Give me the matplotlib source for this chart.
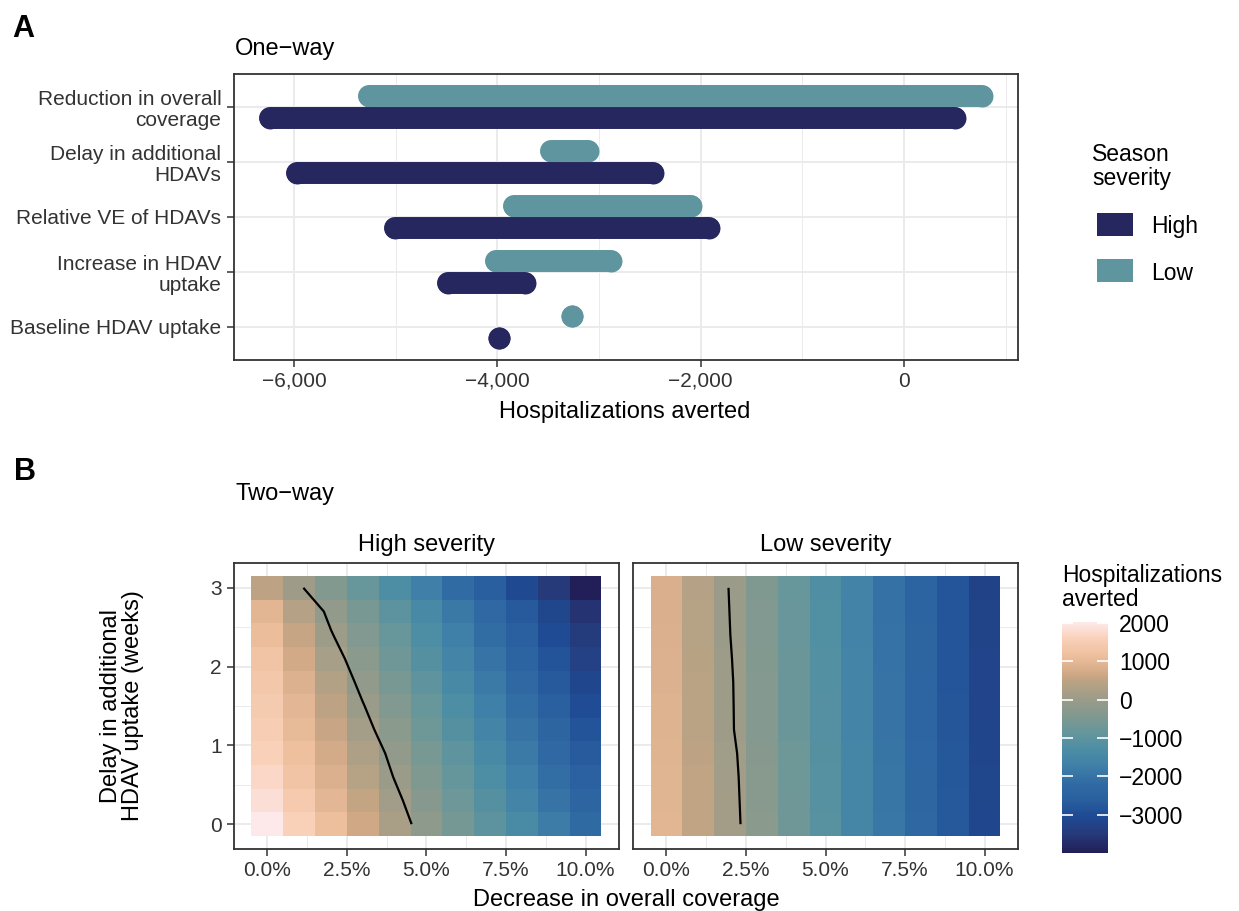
import numpy as np
import matplotlib
matplotlib.use("Agg")
import matplotlib.pyplot as plt
from matplotlib.colors import LinearSegmentedColormap, Normalize
from matplotlib.patches import Rectangle
from matplotlib.cm import ScalarMappable

plt.rcParams['font.family'] = ['Liberation Sans', 'DejaVu Sans']

# ---------------- data ----------------
parameters = ["Reduction in overall\ncoverage", "Delay in additional\nHDAVs",
              "Relative VE of HDAVs", "Increase in HDAV\nuptake", "Baseline HDAV uptake"]
high_min = [-6240, -5975, -5010, -4485, -3985]
high_max = [500, -2465, -1920, -3730, -3985]
low_min = [-5260, -3470, -3835, -4010, -3265]
low_max = [770, -3105, -2095, -2880, -3265]

xticks_a = [-6000, -4000, -2000, 0]
xticklabels_a = ["\u22126,000", "\u22124,000", "\u22122,000", "0"]

coverage = [0, 1, 2, 3, 4, 5, 6, 7, 8, 9, 10]          # % decrease
delay = [0.0, 0.3, 0.6, 0.9, 1.2, 1.5, 1.8, 2.1, 2.4, 2.7, 3.0]  # weeks

high_sev = [
    [2025, 1594, 1139, 683, 228, -200, -600, -1000, -1400, -1800, -2200],
    [1850, 1415, 979, 544, 109, -313, -730, -1148, -1565, -1983, -2400],
    [1700, 1270, 839, 409, -21, -443, -864, -1286, -1707, -2129, -2550],
    [1600, 1168, 735, 303, -129, -557, -986, -1414, -1843, -2271, -2700],
    [1500, 1052, 604, 157, -279, -707, -1136, -1564, -1993, -2421, -2850],
    [1450, 975, 499, 24, -410, -842, -1273, -1705, -2137, -2568, -3000],
    [1350, 854, 357, -121, -554, -987, -1419, -1852, -2285, -2717, -3150],
    [1250, 727, 204, -265, -698, -1132, -1565, -1999, -2433, -2866, -3300],
    [1100, 566, 32, -408, -843, -1277, -1712, -2146, -2581, -3015, -3450],
    [950, 401, -118, -553, -988, -1423, -1859, -2294, -2729, -3165, -3600],
    [500, 58, -387, -833, -1278, -1723, -2169, -2614, -3059, -3505, -4000],
]
low_sev = [
    [950, 542, 135, -275, -686, -1097, -1507, -1918, -2329, -2739, -3150],
    [940, 531, 123, -287, -698, -1108, -1518, -1929, -2339, -2750, -3160],
    [930, 520, 111, -299, -709, -1120, -1530, -1940, -2350, -2760, -3170],
    [915, 503, 91, -319, -728, -1136, -1545, -1954, -2363, -2771, -3180],
    [880, 465, 50, -356, -761, -1166, -1571, -1976, -2380, -2785, -3190],
    [875, 460, 46, -361, -767, -1172, -1578, -1983, -2389, -2794, -3200],
    [870, 456, 41, -366, -772, -1178, -1585, -1991, -2397, -2804, -3210],
    [855, 440, 25, -381, -787, -1192, -1598, -2003, -2409, -2814, -3220],
    [835, 420, 4, -400, -804, -1209, -1613, -2017, -2422, -2826, -3230],
    [820, 406, -8, -412, -816, -1220, -1624, -2028, -2432, -2836, -3240],
    [810, 395, -20, -424, -828, -1231, -1635, -2039, -2443, -2846, -3250],
]
cbar_ticks = [-3000, -2000, -1000, 0, 1000, 2000]

# ---------------- style ----------------
HIGH_C = "#27275f"
LOW_C = "#5f959e"
GRID_C = "#ebebeb"
SPINE_C = "#333333"
TICK_FS = 15
TITLE_FS = 17
LEG_FS = 16.5

W, H = 1239, 911
fig = plt.figure(figsize=(W / 100, H / 100), dpi=100)


def px_axes(x0, y0, x1, y1):
    return fig.add_axes([x0 / W, 1 - y1 / H, (x1 - x0) / W, (y1 - y0) / H])


def style_axes(ax):
    for s in ax.spines.values():
        s.set_color(SPINE_C)
        s.set_linewidth(1.3)
    ax.tick_params(which='major', length=5, width=1.1, color=SPINE_C,
                   labelsize=TICK_FS, labelcolor="#333333", pad=3.5)
    ax.tick_params(which='minor', length=0)
    ax.grid(which='major', color=GRID_C, lw=1.4, zorder=0)
    ax.grid(which='minor', color=GRID_C, lw=0.7, zorder=0)
    ax.set_axisbelow(True)


# ---------------- panel A ----------------
axA = px_axes(234, 74, 1018, 360)
style_axes(axA)
n = len(parameters)
LW = 15.8
for i in range(n):
    y = n - i
    axA.plot([low_min[i], low_max[i]], [y + 0.2, y + 0.2], color=LOW_C, lw=LW,
             solid_capstyle='round', marker='o', ms=LW, mew=0, zorder=3)
for i in range(n):
    y = n - i
    axA.plot([high_min[i], high_max[i]], [y - 0.2, y - 0.2], color=HIGH_C, lw=LW,
             solid_capstyle='round', marker='o', ms=LW, mew=0, zorder=4)
allv = high_min + high_max + low_min + low_max
lo, hi = min(allv), max(allv)
r = hi - lo
axA.set_xlim(lo - 0.05 * r, hi + 0.05 * r)
axA.set_ylim(0.4, n + 0.6)
axA.set_xticks(xticks_a)
axA.set_xticklabels(xticklabels_a)
axA.set_xticks([-5000, -3000, -1000, 1000], minor=True)
axA.set_yticks([n - i for i in range(n)])
axA.set_yticklabels(parameters, linespacing=1.12)
axA.tick_params(axis='y', pad=4)

fig.text(12 / W, 1 - 37 / H, "A", fontsize=22, fontweight='bold', va='baseline')
fig.text(235 / W, 1 - 55 / H, "One\u2212way", fontsize=TITLE_FS, va='baseline')
fig.text(625 / W, 1 - 418 / H, "Hospitalizations averted", fontsize=TITLE_FS,
         ha='center', va='baseline')

# legend A
fig.text(1092 / W, 1 - 185 / H, "Season\nseverity", fontsize=LEG_FS, va='baseline',
         linespacing=1.05)
for col, lab, yc in [(HIGH_C, "High", 224.5), (LOW_C, "Low", 270.5)]:
    fig.add_artist(Rectangle((1097 / W, 1 - (yc + 11.5) / H), 36 / W, 23 / H,
                             transform=fig.transFigure, facecolor=col, edgecolor='none'))
    fig.text(1151 / W, 1 - yc / H, lab, fontsize=LEG_FS, va='center_baseline')

# ---------------- panel B ----------------
vmin = min(min(min(r) for r in high_sev), min(min(r) for r in low_sev))
vmax = max(max(max(r) for r in high_sev), max(max(r) for r in low_sev))
anchors = [(-4000, "#221f58"), (-3500, "#263a7a"), (-3050, "#1e4a93"),
           (-2600, "#2a60a0"), (-2200, "#306aa3"), (-1720, "#3f80a8"),
           (-1280, "#4d8ea4"), (-830, "#67969b"), (-390, "#82998f"),
           (0, "#9a9b89"), (230, "#a99f87"), (500, "#bca383"),
           (680, "#d0a886"), (1140, "#edbf9c"), (1590, "#f9d0b8"), (2025, "#fde9e9")]
cmap = LinearSegmentedColormap.from_list(
    "lapaz_like", [((v - vmin) / (vmax - vmin), c) for v, c in anchors])
norm = Normalize(vmin=vmin, vmax=vmax)

panels = [("High severity", high_sev, 234, 619), ("Low severity", low_sev, 633, 1018)]
for k, (title, Z, x0, x1) in enumerate(panels):
    ax = px_axes(x0, 563, x1, 849)
    style_axes(ax)
    Z = np.array(Z, dtype=float)
    ax.pcolormesh(coverage, delay, Z, shading='nearest', cmap=cmap, norm=norm,
                  antialiased=False, zorder=1)
    ax.contour(coverage, delay, Z, levels=[0], colors='black', linewidths=1.6, zorder=3)
    ax.set_xlim(-1.05, 11.05)
    ax.set_ylim(-0.315, 3.315)
    ax.set_xticks([0, 2.5, 5, 7.5, 10])
    ax.set_xticklabels([f"{v:.1f}%" for v in [0, 2.5, 5, 7.5, 10]])
    ax.set_xticks([1.25, 3.75, 6.25, 8.75], minor=True)
    ax.set_yticks([0, 1, 2, 3])
    ax.set_yticks([0.5, 1.5, 2.5], minor=True)
    ax.tick_params(axis='y', pad=4)
    if k == 1:
        ax.tick_params(axis='y', left=False, labelleft=False)
    fig.text((x0 + x1) / 2 / W, 1 - 551 / H, title, fontsize=TITLE_FS,
             ha='center', va='baseline')

fig.text(14 / W, 1 - 480 / H, "B", fontsize=22, fontweight='bold', va='baseline')
fig.text(235 / W, 1 - 500 / H, "Two\u2212way", fontsize=TITLE_FS, va='baseline')
fig.text(626 / W, 1 - 906 / H, "Decrease in overall coverage", fontsize=TITLE_FS,
         ha='center', va='baseline')
fig.text(122 / W, 1 - 706 / H, "Delay in additional\nHDAV uptake (weeks)",
         fontsize=TITLE_FS, ha='center', va='center', rotation=90,
         multialignment='center', linespacing=1.05)

# colorbar
cax = px_axes(1062, 622, 1108, 853)
cb = fig.colorbar(ScalarMappable(norm=norm, cmap=cmap), cax=cax)
cb.outline.set_visible(False)
cb.set_ticks(cbar_ticks)
cb.set_ticklabels([str(t).replace("-", "\u2212") for t in cbar_ticks])
cax.yaxis.set_ticks_position('both')
cax.tick_params(direction='in', color='white', length=8, width=1.2,
                labelsize=LEG_FS, pad=8, labelleft=False, labelright=True)
fig.text(1062 / W, 1 - 606 / H, "Hospitalizations\naverted", fontsize=LEG_FS,
         va='baseline', linespacing=1.05)

fig.savefig("out.png", dpi=100)
